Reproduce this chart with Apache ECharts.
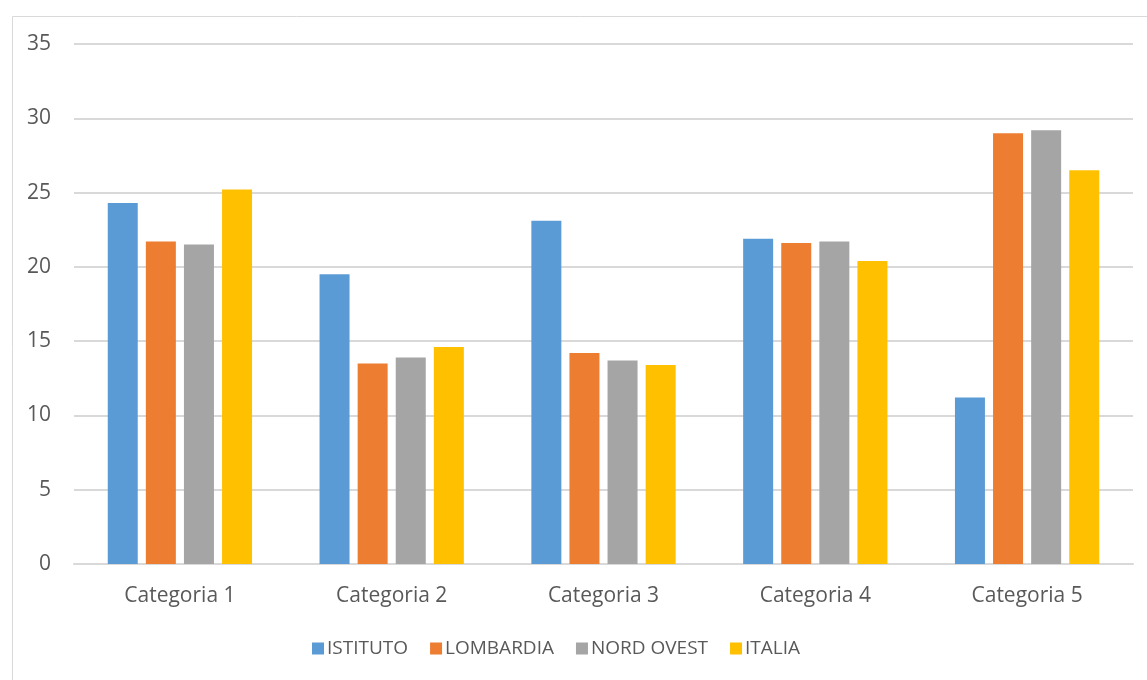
<!DOCTYPE html>
<html>
<head>
<meta charset="utf-8">
<script src="https://cdn.jsdelivr.net/npm/echarts@6/dist/echarts.min.js"></script>
<style>
  html, body { margin: 0; padding: 0; background: #fff; }
  #chart { width: 1147px; height: 680px; }
</style>
</head>
<body>
<div id="chart"></div>
<script>
const categories = ['Categoria 1', 'Categoria 2', 'Categoria 3', 'Categoria 4', 'Categoria 5'];
const istituto = [24.3, 19.5, 23.1, 21.9, 11.2];
const lombardia = [21.7, 13.5, 14.2, 21.6, 29.0];
const nordOvest = [21.5, 13.9, 13.7, 21.7, 29.2];
const italia = [25.2, 14.6, 13.4, 20.4, 26.5];

const font = 'Open Sans';
const textColor = '#595959';

const chart = echarts.init(document.getElementById('chart'));

function bar(name, data, color) {
  return {
    name: name,
    type: 'bar',
    data: data,
    barWidth: 30,
    barGap: '27%',
    itemStyle: { color: color }
  };
}

chart.setOption({
  animation: false,
  graphic: [{
    type: 'rect',
    left: 10, top: 14,
    shape: { width: 1150, height: 700 },
    style: { fill: 'none', stroke: '#d9d9d9', lineWidth: 1 },
    silent: true
  }],
  grid: { left: 74, right: 14, top: 44, bottom: 116 },
  legend: {
    left: 307,
    top: 634,
    itemWidth: 12,
    itemHeight: 12,
    itemGap: 22,
    icon: 'rect',
    textStyle: { fontFamily: font, fontSize: 19, color: textColor, padding: [0, 0, 0, -2] },
    data: ['ISTITUTO', 'LOMBARDIA', 'NORD OVEST', 'ITALIA']
  },
  xAxis: {
    type: 'category',
    data: categories,
    axisLine: { lineStyle: { color: '#d9d9d9', width: 2 } },
    axisTick: { show: false },
    axisLabel: { fontFamily: font, fontSize: 21, color: textColor, margin: 22 }
  },
  yAxis: {
    type: 'value',
    min: 0,
    max: 35,
    interval: 5,
    axisLine: { show: false },
    axisTick: { show: false },
    splitLine: { lineStyle: { color: '#d9d9d9', width: 2 } },
    axisLabel: { fontFamily: font, fontSize: 21, color: textColor, margin: 23 }
  },
  series: [
    bar('ISTITUTO', istituto, '#5B9BD5'),
    bar('LOMBARDIA', lombardia, '#ED7D31'),
    bar('NORD OVEST', nordOvest, '#A5A5A5'),
    bar('ITALIA', italia, '#FFC000')
  ]
});
</script>
</body>
</html>
